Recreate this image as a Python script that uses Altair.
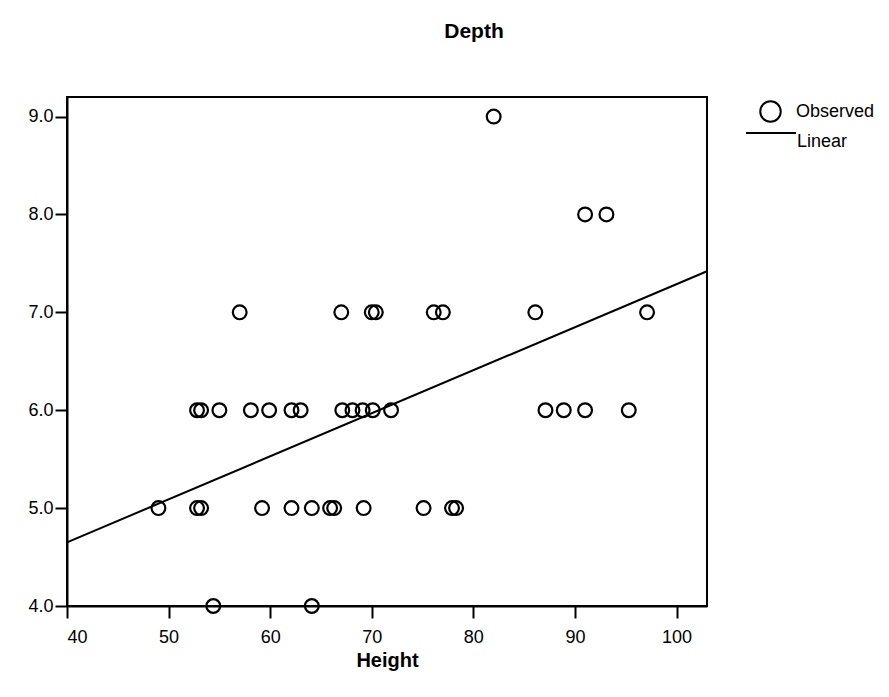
import altair as alt
import pandas as pd

# Observed points (Height, Depth)
x_d9 = [82.0]
x_d8 = [91.0, 93.1]
x_d7 = [57.0, 67.0, 70.0, 70.4, 76.1, 77.0, 86.1, 97.1]
x_d6 = [52.8, 53.2, 55.0, 58.1, 59.9, 62.1, 63.0, 67.1, 68.1, 69.1, 70.1, 71.9,
        87.1, 88.9, 91.0, 95.3]
x_d5 = [49.0, 52.8, 53.2, 59.2, 62.1, 64.1, 65.9, 66.3, 69.2, 75.1, 77.9, 78.3]
x_d4 = [54.4, 64.1]

# Linear fit end points
fit_x = [40, 103]
fit_y = [4.65, 7.42]

x_ticks = [40, 50, 60, 70, 80, 90, 100]
y_ticks = [4, 5, 6, 7, 8, 9]

rows = []
for depth, xs in [(9, x_d9), (8, x_d8), (7, x_d7), (6, x_d6), (5, x_d5), (4, x_d4)]:
    for h in xs:
        rows.append({"Height": h, "Depth": depth, "series": "Observed"})
obs = pd.DataFrame(rows)
fit = pd.DataFrame({"Height": fit_x, "Depth": fit_y, "series": ["Linear"] * len(fit_x)})

FONT = "Liberation Sans"

xscale = alt.Scale(domain=[40, 103], nice=False, zero=False)
yscale = alt.Scale(domain=[4, 9.2], nice=False, zero=False)

xaxis = alt.Axis(values=x_ticks, title="Height", format="d", grid=False,
                 tickSize=12, labelPadding=10, titlePadding=4,
                 labelFontSize=18, titleFontSize=20)
yaxis = alt.Axis(values=y_ticks, title=None, format=".1f", grid=False,
                 tickSize=12, labelPadding=2, labelFontSize=18)

obs_legend = alt.Legend(
    title=None, orient="none", legendX=692, legendY=3,
    labelFont=FONT, labelFontSize=18, labelColor="black", labelOffset=14,
    symbolSize=420, symbolStrokeWidth=2, symbolStrokeColor="black",
    symbolFillColor="transparent", padding=0,
)
lin_legend = alt.Legend(
    title=None, orient="none", legendX=678, legendY=10,
    labelFont=FONT, labelFontSize=18, labelColor="black", labelOffset=0,
    labelBaseline="top",
    symbolType="stroke", symbolSize=2500, symbolStrokeWidth=2,
    symbolStrokeColor="black", padding=0,
)

points = alt.Chart(obs).mark_point(filled=False, color="black", strokeWidth=2.2, size=190, opacity=1).encode(
    x=alt.X("Height:Q", scale=xscale, axis=xaxis),
    y=alt.Y("Depth:Q", scale=yscale, axis=yaxis),
    shape=alt.Shape("series:N",
                    scale=alt.Scale(domain=["Observed"], range=["circle"]),
                    legend=obs_legend),
)

line = alt.Chart(fit).mark_line(strokeWidth=2).encode(
    x=alt.X("Height:Q", scale=xscale),
    y=alt.Y("Depth:Q", scale=yscale),
    color=alt.Color("series:N",
                    scale=alt.Scale(domain=["Linear"], range=["black"]),
                    legend=lin_legend),
)

chart = alt.layer(line, points).resolve_scale(
    shape="independent", color="independent"
).properties(
    width=640, height=509,
    autosize="none",
    padding={"left": 59, "top": 89, "right": 174, "bottom": 83},
    title=alt.TitleParams("Depth", anchor="middle", dx=87, offset=55,
                          font=FONT, fontSize=21, fontWeight="bold", color="black"),
).configure_view(
    stroke="black", strokeWidth=2
).configure_axis(
    domainColor="black", domainWidth=2, tickColor="black", tickWidth=2,
    labelFont=FONT, labelColor="black",
    titleFont=FONT, titleFontWeight="bold", titleColor="black",
)

chart.save("out.html", embed_options={"renderer": "svg", "actions": False})
